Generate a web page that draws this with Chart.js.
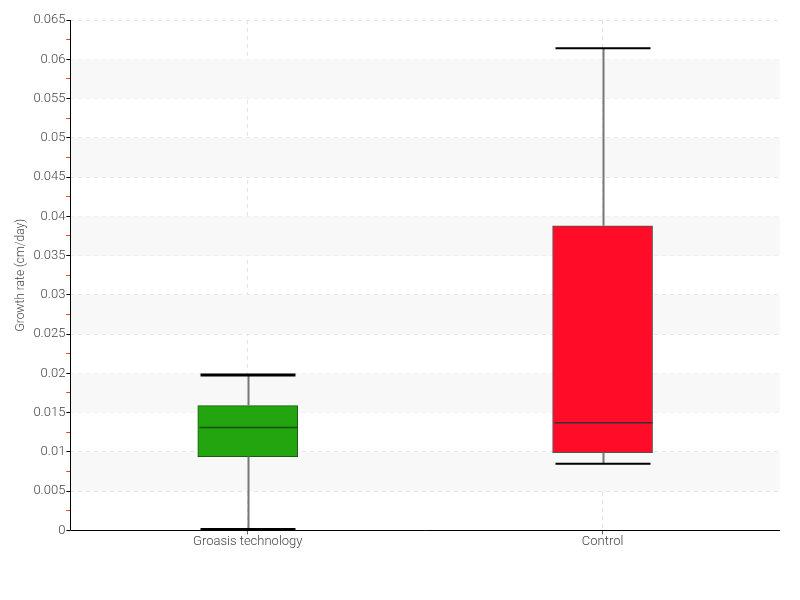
<!DOCTYPE html>
<html>
<head>
<meta charset="utf-8">
<script src="https://cdn.jsdelivr.net/npm/chart.js@4/dist/chart.umd.min.js"></script>
<style>
  html, body { margin: 0; padding: 0; background: #fff; }
  #wrap { width: 800px; height: 600px; }
</style>
</head>
<body>
<div id="wrap"><canvas id="chart" width="800" height="600"></canvas></div>
<script>
// box plot numbers
const categories = ['Groasis technology', 'Control']
const whiskerMin = [0.0001, 0.0085]
const quartile1 = [0.0094, 0.0099]
const medians = [0.0131, 0.0137]
const quartile3 = [0.0159, 0.0388]
const whiskerMax = [0.0198, 0.0614]
const boxColors = ['#22a50e', '#ff0c29']
const boxBorders = ['#175c0f', '#555555']
const medianColors = ['#174f10', '#333333']
// shaded horizontal bands behind the plot
const bandRanges = [[0.005, 0.01], [0.015, 0.02], [0.025, 0.03], [0.035, 0.04], [0.045, 0.05], [0.055, 0.06]]

const FONT = 'Roboto'

let boxData = []
for (let i = 0; i < categories.length; i++) {
    boxData.push([quartile1[i], quartile3[i]])
}

const bandPlugin = {
    id: 'bands',
    beforeDatasetsDraw(chart) {
        const ctx = chart.ctx
        const y = chart.scales.y
        const area = chart.chartArea
        ctx.save()
        ctx.fillStyle = '#f8f8f8'
        for (let i = 0; i < bandRanges.length; i++) {
            let top = y.getPixelForValue(bandRanges[i][1])
            let bottom = y.getPixelForValue(bandRanges[i][0])
            ctx.fillRect(area.left, top, area.right - area.left, bottom - top)
        }
        ctx.restore()
    }
}

const whiskerPlugin = {
    id: 'whiskers',
    afterDatasetsDraw(chart) {
        const ctx = chart.ctx
        const x = chart.scales.x
        const y = chart.scales.y
        const area = chart.chartArea
        ctx.save()
        for (let i = 0; i < categories.length; i++) {
            let cx = Math.round(x.getPixelForValue(i)) + 0.5
            let meta = chart.getDatasetMeta(0).data[i]
            let half = meta.width / 2
            // whisker stems
            ctx.strokeStyle = '#777777'
            ctx.lineWidth = 2
            ctx.beginPath()
            ctx.moveTo(cx, y.getPixelForValue(quartile3[i]))
            ctx.lineTo(cx, y.getPixelForValue(whiskerMax[i]))
            ctx.moveTo(cx, y.getPixelForValue(quartile1[i]))
            ctx.lineTo(cx, y.getPixelForValue(whiskerMin[i]))
            ctx.stroke()
            // caps
            ctx.strokeStyle = '#000000'
            ctx.lineWidth = i == 0 ? 3 : 2
            ctx.beginPath()
            ctx.moveTo(cx - half + 2, y.getPixelForValue(whiskerMax[i]))
            ctx.lineTo(cx + half - 3, y.getPixelForValue(whiskerMax[i]))
            ctx.moveTo(cx - half + 2, y.getPixelForValue(whiskerMin[i]))
            ctx.lineTo(cx + half - 3, y.getPixelForValue(whiskerMin[i]))
            ctx.stroke()
            // median
            ctx.strokeStyle = medianColors[i]
            ctx.lineWidth = 1.5
            ctx.beginPath()
            ctx.moveTo(cx - half + 1, y.getPixelForValue(medians[i]))
            ctx.lineTo(cx + half - 1, y.getPixelForValue(medians[i]))
            ctx.stroke()
        }
        // solid axis lines (the scale borders come out dashed)
        ctx.strokeStyle = '#000000'
        ctx.lineWidth = 1
        ctx.setLineDash([])
        ctx.beginPath()
        ctx.moveTo(Math.round(area.left) + 0.5, area.top)
        ctx.lineTo(Math.round(area.left) + 0.5, Math.round(area.bottom) + 0.5)
        ctx.lineTo(area.right, Math.round(area.bottom) + 0.5)
        ctx.stroke()
        ctx.restore()
    }
}

function tickText(value, index) {
    if (index % 2 == 1) {
        return ''
    }
    return parseFloat(value.toFixed(4)).toString()
}

new Chart(document.getElementById('chart').getContext('2d'), {
    type: 'bar',
    data: {
        labels: categories,
        datasets: [{
            data: boxData,
            backgroundColor: boxColors,
            borderColor: boxBorders,
            borderWidth: 1,
            borderSkipped: false,
            barThickness: 100
        }]
    },
    options: {
        responsive: false,
        animation: false,
        layout: { padding: { top: 20, right: 20, bottom: 50, left: 14 } },
        plugins: {
            legend: { display: false },
            tooltip: { enabled: false }
        },
        scales: {
            x: {
                offset: true,
                grid: {
                    offset: false,
                    color: '#e4e4e4',
                    tickColor: '#666666',
                    tickBorderDash: [],
                    tickLength: 4
                },
                border: { display: false, dash: [4, 4] },
                ticks: {
                    color: '#444444',
                    padding: 0,
                    font: { family: FONT, size: 13, weight: 300 }
                }
            },
            y: {
                min: 0,
                max: 0.065,
                grid: {
                    color: function(c) { return c.index % 2 == 1 ? 'rgba(0,0,0,0)' : '#e4e4e4' },
                    tickColor: function(c) { return c.index % 2 == 1 ? '#ff3030' : '#000000' },
                    tickBorderDash: [],
                    tickLength: 4
                },
                border: { display: false, dash: [4, 4] },
                ticks: {
                    stepSize: 0.0025,
                    autoSkip: false,
                    color: '#444444',
                    padding: 1,
                    font: { family: FONT, size: 13, weight: 300 },
                    callback: tickText
                },
                title: {
                    display: true,
                    text: 'Growth rate (cm/day)',
                    color: '#444444',
                    padding: { top: 0, bottom: 4 },
                    font: { family: FONT, size: 12, weight: 300 }
                }
            }
        }
    },
    plugins: [bandPlugin, whiskerPlugin]
})
</script>
</body>
</html>
